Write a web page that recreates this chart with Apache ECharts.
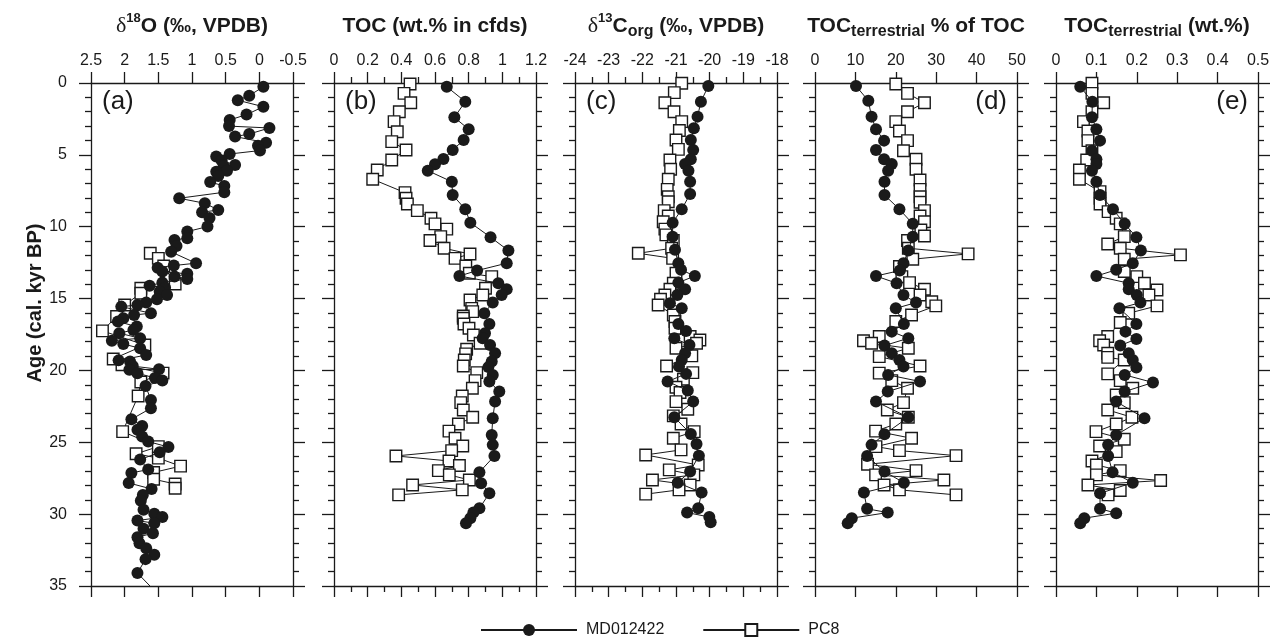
<!DOCTYPE html>
<html><head><meta charset="utf-8">
<script src="https://cdn.jsdelivr.net/npm/echarts@6/dist/echarts.min.js"></script>
<style>html,body{margin:0;padding:0;background:#fff}#c{width:1279px;height:642px}</style>
</head><body><div id="c"></div>
<script>
// ---- data: [age (cal. kyr BP), value] ----
const seriesNames = ['MD012422', 'PC8'];
const ageTicks = [0, 5, 10, 15, 20, 25, 30, 35];

const d18O_MD = [[0.26,-0.06],[0.88,0.15],[1.2,0.32],[1.65,-0.06],[2.2,0.19],[2.57,0.44],[3.0,0.45],[3.13,-0.15],[3.55,0.15],[3.73,0.36],[4.15,-0.1],[4.36,0.02],[4.7,-0.01],[4.94,0.44],[5.12,0.64],[5.4,0.56],[5.7,0.36],[5.77,0.53],[6.1,0.48],[6.17,0.64],[6.47,0.61],[6.89,0.73],[7.17,0.52],[7.6,0.52],[8.02,1.19],[8.37,0.81],[8.83,0.61],[9.0,0.85],[9.39,0.74],[9.99,0.77],[10.34,1.07],[10.8,1.07],[10.92,1.26],[11.34,1.23],[11.75,1.31],[12.54,0.94],[12.7,1.27],[12.85,1.51],[13.12,1.44],[13.28,1.07],[13.47,1.26],[13.63,1.07],[13.89,1.44],[14.1,1.63],[14.24,1.4],[14.52,1.48],[14.75,1.37],[15.05,1.52],[15.28,1.68],[15.45,1.81],[15.56,2.05],[16.02,1.61],[16.14,1.86],[16.37,2.02],[16.6,2.1],[16.95,1.82],[17.18,1.87],[17.41,2.08],[17.76,1.77],[17.93,2.19],[18.16,2.02],[18.46,1.77],[18.93,1.68],[19.3,2.09],[19.38,1.92],[19.7,1.88],[19.92,1.49],[19.96,1.93],[20.19,1.81],[20.53,1.55],[20.7,1.44],[21.08,1.69],[22.05,1.61],[22.63,1.61],[23.4,1.9],[23.86,1.74],[24.13,1.81],[24.6,1.74],[24.95,1.65],[25.33,1.35],[25.7,1.48],[26.2,1.77],[26.9,1.65],[27.13,1.9],[27.83,1.94],[28.25,1.6],[28.66,1.73],[29.07,1.76],[29.7,1.72],[29.98,1.56],[30.2,1.44],[30.45,1.81],[30.63,1.56],[31.02,1.72],[31.33,1.58],[31.6,1.81],[32.02,1.78],[32.37,1.68],[32.83,1.56],[33.13,1.69],[34.1,1.81],[35.6,1.5]];
const d18O_PC8 = [[11.85,1.62],[12.2,1.5],[12.73,1.42],[13.99,1.25],[14.28,1.76],[14.63,1.76],[15.45,2.0],[16.25,2.12],[17.25,2.33],[18.23,1.7],[19.2,2.17],[19.6,2.04],[20.19,1.43],[20.8,1.76],[21.78,1.8],[24.26,2.03],[25.3,1.5],[25.8,1.83],[26.1,1.5],[26.66,1.17],[27.1,1.57],[27.57,1.57],[27.9,1.25],[28.2,1.25]];

const toc_MD = [[0.26,0.67],[1.3,0.78],[2.39,0.715],[3.22,0.8],[3.97,0.77],[4.66,0.705],[5.29,0.65],[5.66,0.6],[6.1,0.557],[6.87,0.7],[7.79,0.705],[8.79,0.78],[9.72,0.81],[10.73,0.93],[11.66,1.036],[12.54,1.026],[13.05,0.85],[13.43,0.745],[13.93,0.976],[14.35,1.026],[14.75,0.996],[15.28,0.943],[16.02,0.893],[16.77,0.923],[17.41,0.897],[17.76,0.883],[18.23,0.927],[18.8,0.957],[19.38,0.937],[19.77,0.917],[20.31,0.943],[20.77,0.923],[21.47,0.982],[22.17,0.957],[23.32,0.943],[24.49,0.937],[25.18,0.943],[25.95,0.953],[27.08,0.864],[27.85,0.874],[28.55,0.923],[29.59,0.864],[29.89,0.828],[30.28,0.81],[30.63,0.784]];
const toc_PC8 = [[0.07,0.452],[0.72,0.416],[1.37,0.456],[2.0,0.388],[2.69,0.357],[3.39,0.376],[4.08,0.343],[4.66,0.428],[5.36,0.343],[6.05,0.257],[6.7,0.23],[7.63,0.422],[8.02,0.428],[8.42,0.436],[8.88,0.495],[9.41,0.576],[9.8,0.6],[10.17,0.67],[10.69,0.634],[10.96,0.57],[11.5,0.654],[11.9,0.808],[12.2,0.719],[12.73,0.783],[13.24,0.804],[13.47,0.937],[14.28,0.9],[14.75,0.884],[15.1,0.808],[15.68,0.818],[15.91,0.824],[16.21,0.768],[16.37,0.768],[16.77,0.772],[17.07,0.802],[17.53,0.828],[18.11,0.868],[18.53,0.788],[18.85,0.782],[19.27,0.774],[19.69,0.768],[20.15,0.848],[20.71,0.838],[21.24,0.822],[21.78,0.762],[22.24,0.753],[22.75,0.768],[23.26,0.824],[23.73,0.739],[24.22,0.683],[24.72,0.719],[25.26,0.765],[25.58,0.699],[25.95,0.368],[26.3,0.683],[26.62,0.745],[26.97,0.62],[27.27,0.685],[27.62,0.804],[27.97,0.467],[28.31,0.762],[28.66,0.384]];

const d13C_MD = [[0.21,-20.04],[1.3,-20.26],[2.34,-20.36],[3.15,-20.47],[3.97,-20.56],[4.66,-20.49],[5.31,-20.56],[5.64,-20.73],[6.1,-20.63],[6.87,-20.58],[7.72,-20.58],[8.79,-20.83],[9.72,-21.1],[10.69,-21.1],[11.61,-21.03],[12.54,-20.93],[13.0,-20.85],[13.43,-20.44],[13.89,-20.93],[14.35,-20.73],[14.75,-20.96],[15.33,-21.18],[15.68,-20.83],[16.77,-20.93],[17.25,-20.7],[17.76,-21.05],[18.23,-20.6],[18.8,-20.73],[19.27,-20.83],[19.73,-20.91],[20.24,-20.7],[20.77,-21.25],[21.4,-20.65],[22.17,-20.49],[23.26,-21.05],[24.42,-20.56],[25.12,-20.39],[25.93,-20.32],[27.04,-20.58],[27.81,-20.95],[28.5,-20.24],[29.59,-20.34],[29.89,-20.67],[30.2,-20.01],[30.57,-19.97]];
const d13C_PC8 = [[0.02,-20.83],[0.67,-21.05],[1.37,-21.33],[2.0,-21.06],[2.69,-20.83],[3.31,-20.9],[3.97,-21.0],[4.62,-20.93],[5.36,-21.18],[6.0,-21.16],[6.7,-21.23],[7.4,-21.26],[7.91,-21.23],[8.26,-21.23],[8.88,-21.35],[9.25,-21.23],[9.65,-21.38],[10.17,-21.33],[10.57,-21.3],[10.96,-21.08],[11.5,-21.13],[11.85,-22.12],[12.2,-21.1],[13.24,-21.0],[13.93,-21.08],[14.35,-21.18],[14.75,-21.33],[15.05,-21.46],[15.45,-21.53],[16.14,-21.08],[16.6,-21.03],[17.07,-21.03],[17.64,-20.58],[17.88,-20.29],[18.11,-20.39],[18.46,-21.0],[18.99,-20.53],[19.69,-21.28],[20.15,-20.5],[20.61,-20.78],[21.17,-21.0],[21.54,-20.88],[22.17,-21.0],[22.7,-20.65],[23.16,-21.08],[23.73,-20.85],[24.26,-20.46],[24.72,-21.08],[25.53,-20.85],[25.88,-21.9],[26.58,-20.34],[26.92,-21.2],[27.27,-20.47],[27.62,-21.7],[27.97,-20.58],[28.31,-20.91],[28.61,-21.9]];

const terrPct_MD = [[0.21,10.15],[1.23,13.2],[2.34,14.0],[3.22,15.1],[4.01,17.1],[4.66,15.1],[5.31,17.1],[5.64,19.0],[6.1,18.1],[6.87,17.2],[7.79,17.2],[8.79,20.9],[9.8,24.2],[10.69,24.2],[11.66,23.1],[12.54,21.9],[13.05,21.0],[13.43,15.1],[13.93,20.2],[14.75,21.9],[15.28,25.0],[15.68,20.0],[16.77,22.0],[17.3,19.0],[17.76,23.1],[18.27,17.2],[18.8,19.0],[19.27,20.9],[19.73,21.9],[20.31,18.1],[20.77,26.0],[21.47,18.0],[22.17,15.1],[23.26,23.1],[24.44,17.2],[25.18,14.0],[25.95,12.9],[27.04,17.2],[27.81,22.0],[28.5,12.1],[29.63,12.9],[29.89,18.0],[30.28,9.1],[30.63,8.1]];
const terrPct_PC8 = [[0.07,20.0],[0.72,22.9],[1.37,27.1],[2.0,22.9],[2.69,20.0],[3.34,20.9],[4.01,22.9],[4.71,21.9],[5.31,25.0],[6.0,25.0],[6.75,26.0],[7.4,26.0],[7.91,26.0],[8.3,26.0],[8.88,27.1],[9.25,26.0],[9.65,27.1],[10.23,26.2],[10.65,27.1],[10.96,22.9],[11.5,23.1],[11.89,37.9],[12.26,24.2],[12.77,20.9],[13.47,21.5],[13.89,23.4],[14.35,27.1],[14.75,26.0],[15.22,28.9],[15.51,29.9],[16.14,23.9],[16.6,20.0],[17.64,15.9],[17.93,12.0],[18.11,14.0],[18.46,23.1],[19.04,15.9],[19.69,26.0],[20.19,15.9],[20.71,19.0],[21.24,22.9],[22.24,21.9],[22.75,17.9],[23.26,23.1],[23.73,20.0],[24.22,15.0],[24.72,23.9],[25.3,15.1],[25.58,20.9],[25.93,34.9],[26.53,13.0],[26.97,25.0],[27.27,15.0],[27.62,31.9],[27.97,17.1],[28.31,20.9],[28.66,34.9]];

const terrWt_MD = [[0.26,0.06],[1.3,0.09],[2.39,0.089],[3.22,0.1],[4.01,0.109],[4.71,0.089],[5.31,0.1],[5.64,0.1],[6.1,0.089],[6.87,0.1],[7.79,0.109],[8.79,0.141],[9.8,0.17],[10.73,0.199],[11.66,0.21],[12.54,0.19],[13.0,0.149],[13.43,0.1],[13.93,0.18],[14.35,0.18],[14.75,0.2],[15.28,0.209],[15.68,0.157],[16.77,0.199],[17.3,0.172],[17.81,0.199],[18.27,0.159],[18.8,0.18],[19.27,0.19],[19.8,0.199],[20.31,0.17],[20.84,0.24],[21.47,0.17],[22.17,0.149],[23.32,0.219],[24.49,0.149],[25.18,0.129],[25.95,0.129],[27.08,0.14],[27.81,0.19],[28.55,0.109],[29.63,0.109],[29.93,0.149],[30.28,0.07],[30.63,0.06]];
const terrWt_PC8 = [[0.02,0.089],[0.72,0.089],[1.37,0.118],[2.0,0.089],[2.69,0.068],[3.34,0.079],[4.01,0.079],[4.71,0.089],[5.36,0.076],[6.05,0.058],[6.7,0.058],[7.56,0.109],[8.02,0.109],[8.42,0.109],[8.95,0.129],[9.41,0.149],[9.8,0.159],[10.69,0.169],[11.2,0.128],[11.5,0.159],[11.96,0.308],[12.26,0.169],[13.12,0.169],[13.47,0.2],[13.93,0.219],[14.4,0.25],[14.75,0.23],[15.51,0.25],[16.02,0.18],[16.67,0.159],[17.64,0.128],[17.93,0.108],[18.23,0.118],[18.8,0.128],[19.09,0.128],[19.27,0.169],[20.24,0.128],[20.71,0.159],[21.24,0.19],[21.71,0.149],[22.24,0.169],[22.75,0.128],[23.26,0.188],[23.73,0.149],[24.26,0.099],[24.79,0.169],[25.26,0.108],[25.65,0.149],[26.3,0.089],[26.58,0.1],[26.97,0.159],[27.27,0.1],[27.66,0.259],[27.97,0.079],[28.36,0.159],[28.66,0.129]];

// x-axis scales per panel
const panelScales = [
  {min: -0.5, max: 2.5, interval: 0.5, inverse: true, minor: 0},
  {min: 0, max: 1.2, interval: 0.2, inverse: false, minor: 2},
  {min: -24, max: -18, interval: 1, inverse: false, minor: 2},
  {min: 0, max: 50, interval: 10, inverse: false, minor: 0},
  {min: 0, max: 0.5, interval: 0.1, inverse: false, minor: 0}
];
const panelData = [[d18O_MD, d18O_PC8],[toc_MD, toc_PC8],[d13C_MD, d13C_PC8],[terrPct_MD, terrPct_PC8],[terrWt_MD, terrWt_PC8]];
const panelTags = ['(a)','(b)','(c)','(d)','(e)'];
const panelTitles = [
  '{g|δ}{sup|18}{n|O (‰, VPDB)}',
  '{n|TOC (wt.% in cfds)}',
  '{g|δ}{sup|13}{n|C}{sub|org}{n| (‰, VPDB)}',
  '{n|TOC}{sub|terrestrial}{n| % of TOC}',
  '{n|TOC}{sub|terrestrial}{n| (wt.%)}'
];

// ---- layout / style ----
const F = '"Liberation Sans", Arial, Helvetica, sans-serif';
const INK = '#1a1a1a';
const lefts = [91, 334, 575, 815, 1056];
const W = 202, TOP = 83, H = 503;
const axLine = {show: true, onZero: false, lineStyle: {color: INK, width: 1.3}};

const grid = [], xAxis = [], yAxis = [], series = [], title = [], graphic = [];
lefts.forEach((L, i) => {
  const s = panelScales[i];
  grid.push({left: L, top: TOP, width: W, height: H});
  const xBase = {
    type: 'value', gridIndex: i, min: s.min, max: s.max, interval: s.interval, inverse: s.inverse,
    axisLine: axLine, splitLine: {show: false},
    axisTick: {show: true, inside: false, length: 11, lineStyle: {color: INK, width: 1.3}},
    minorTick: {show: s.minor > 0, splitNumber: s.minor || 5, length: 6, lineStyle: {color: INK, width: 1.3}},
    minorSplitLine: {show: false}
  };
  xAxis.push(Object.assign({}, xBase, {position: 'top',
    axisLabel: {show: true, margin: 14, fontSize: 16, color: INK, fontFamily: F}}));
  xAxis.push(Object.assign({}, xBase, {position: 'bottom', axisLabel: {show: false}}));
  const yBase = {
    type: 'value', gridIndex: i, min: 0, max: 35, interval: 5, inverse: true,
    axisLine: axLine, splitLine: {show: false},
    axisTick: {show: true, inside: false, length: 12, lineStyle: {color: INK, width: 1.3}},
    minorTick: {show: true, splitNumber: 5, length: 6, lineStyle: {color: INK, width: 1.3}},
    minorSplitLine: {show: false}
  };
  yAxis.push(Object.assign({}, yBase, {position: 'left',
    axisLabel: {show: i === 0, margin: 24, fontSize: 16, color: INK, fontFamily: F}}));
  yAxis.push(Object.assign({}, yBase, {position: 'right', axisLabel: {show: false}}));

  const [md, pc] = panelData[i];
  series.push({
    name: seriesNames[1], type: 'line', xAxisIndex: 2 * i, yAxisIndex: 2 * i,
    data: pc.map(p => [p[1], p[0]]), symbol: 'rect', symbolSize: 11.5,
    lineStyle: {color: INK, width: 1}, itemStyle: {color: '#fff', borderColor: INK, borderWidth: 1.4},
    animation: false, z: 2
  });
  series.push({
    name: seriesNames[0], type: 'line', xAxisIndex: 2 * i, yAxisIndex: 2 * i,
    data: md.map(p => [p[1], p[0]]), symbol: 'circle', symbolSize: 12,
    lineStyle: {color: INK, width: 1}, itemStyle: {color: INK, borderColor: INK, borderWidth: 0},
    animation: false, z: 3
  });

  title.push({
    text: panelTitles[i], left: L + W / 2, top: 12, textAlign: 'center', padding: 0,
    textStyle: {
      rich: {
        n: {fontSize: 21, fontWeight: 'bold', fontFamily: F, color: INK, lineHeight: 28, verticalAlign: 'middle'},
        g: {fontSize: 22, fontWeight: 'normal', fontFamily: '"Liberation Serif", "DejaVu Serif", serif', color: INK, lineHeight: 28, verticalAlign: 'middle'},
        sup: {fontSize: 13, fontWeight: 'bold', fontFamily: F, color: INK, lineHeight: 16, verticalAlign: 'top'},
        sub: {fontSize: 16, fontWeight: 'bold', fontFamily: F, color: INK, lineHeight: 15, verticalAlign: 'bottom'}
      }
    }
  });

  const right = i >= 3;
  graphic.push({
    type: 'text', x: right ? L + W - 10 : L + 11, y: TOP + 19,
    style: {text: panelTags[i], fontSize: 26, fontFamily: F, fill: INK, align: right ? 'right' : 'left', verticalAlign: 'middle'}
  });
});

graphic.push({
  type: 'text', x: 35, y: 303, rotation: Math.PI / 2,
  style: {text: 'Age (cal. kyr BP)', fontSize: 20, fontWeight: 'bold', fontFamily: F, fill: INK, align: 'center', verticalAlign: 'middle'}
});

const chart = echarts.init(document.getElementById('c'), null, {renderer: 'canvas'});
chart.setOption({
  backgroundColor: '#fff',
  animation: false,
  title, grid, xAxis, yAxis, series, graphic,
  legend: {
    data: seriesNames, left: 475, top: 617, itemWidth: 96, itemHeight: 15, itemGap: 38,
    textStyle: {fontSize: 16, fontFamily: F, color: INK, padding: [0, 0, 0, 4]}
  }
});
</script></body></html>
